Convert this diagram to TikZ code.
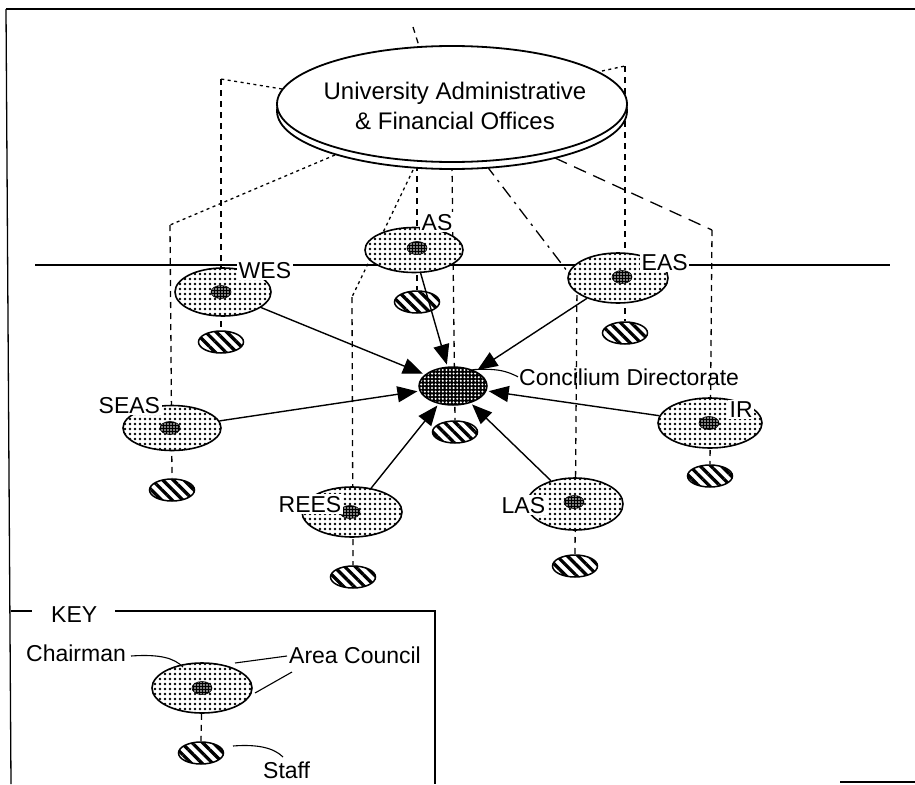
\documentclass[tikz,border=0pt]{standalone}
\usepackage{fontspec}
\setmainfont{Liberation Sans}
\usetikzlibrary{shapes.geometric,patterns.meta,arrows.meta,backgrounds}
\begin{document}
\begin{tikzpicture}[x=1pt,y=-1pt,
  font=\fontsize{23}{27}\selectfont,
  titleell/.style={ellipse, draw, line width=1.8pt, fill=white, inner sep=0pt, minimum width=350pt, minimum height=116pt},
  council/.style={ellipse, draw, line width=1.6pt, inner sep=0pt, preaction={fill=white}, pattern={Dots[distance=5pt,radius=1.45pt]}},
  concil/.style={ellipse, draw, line width=1.5pt, inner sep=0pt, minimum width=68pt, minimum height=38pt, preaction={fill=black}, pattern={Dots[distance=3.6pt,radius=1.15pt]}, pattern color=white},
  chair/.style={ellipse, draw, line width=0.6pt, inner sep=0pt, minimum width=20pt, minimum height=13pt, preaction={fill=black}, pattern={Dots[distance=3pt,radius=0.9pt]}, pattern color=white},
  staff/.style={ellipse, draw, line width=1.5pt, inner sep=0pt, minimum width=45pt, minimum height=22pt, preaction={fill=white}, pattern={Lines[angle=-45,distance=7.5pt,line width=3.3pt]}},
  lbl/.style={fill=white, inner sep=1.5pt, anchor=base west},
  txt/.style={inner sep=1pt, anchor=base west},
  arr/.style={line width=1.4pt, -{Triangle[length=20pt,width=16pt]}, shorten >=2pt},
  dotl/.style={line width=1.3pt, dash pattern=on 3pt off 3.5pt},
  dashl/.style={line width=1.3pt, dash pattern=on 6pt off 5pt},
  longdash/.style={line width=1.3pt, dash pattern=on 13pt off 8pt},
  dashdot/.style={line width=1.3pt, dash pattern=on 13pt off 6pt on 2.5pt off 6pt},
  leader/.style={line width=1.1pt}
]
\useasboundingbox (0,0) rectangle (915,784);
% outer frame
\draw[line width=1.5pt] (6,9) -- (915,9);
\draw[line width=1.3pt] (6,9) -- (11,784);
\draw[line width=1.3pt] (840,782) -- (915,782);

% title ellipse
\node[titleell] (uafrim) at (452,111) {};
\node[titleell] (uaf) at (452,104) {};
\node[align=center, font=\fontsize{24}{30}\selectfont, inner sep=0pt] (uaft) at (455,106) {University Administrative\\\& Financial Offices};

% councils
\node[council, minimum width=96pt, minimum height=48pt] (wes) at (223,292) {};
\node[council, minimum width=98pt, minimum height=45pt] (as) at (414,250) {};
\node[council, minimum width=100pt, minimum height=50pt] (eas) at (618,278) {};
\node[council, minimum width=98pt, minimum height=45pt] (seas) at (172,428) {};
\node[council, minimum width=104pt, minimum height=50pt] (ir) at (710,423) {};
\node[council, minimum width=100pt, minimum height=50pt] (rees) at (352,512) {};
\node[council, minimum width=96pt, minimum height=52pt] (las) at (575,504) {};
\node[concil] (conc) at (453,386) {};
\node[council, minimum width=100pt, minimum height=50pt] (key) at (202,688) {};

% chairmen
\node[chair] (wesch) at (221,292) {};
\node[chair] (asch) at (417,248) {};
\node[chair] (easch) at (622,277) {};
\node[chair] (seasch) at (170,428) {};
\node[chair] (irch) at (709,423) {};
\node[chair] (reesch) at (350,512) {};
\node[chair] (lasch) at (574,502) {};
\node[chair] (keych) at (202,688) {};

% staff
\node[staff] (wess) at (221,342) {};
\node[staff] (ass) at (417,302) {};
\node[staff] (eass) at (625,333) {};
\node[staff] (concs) at (455,432) {};
\node[staff] (seass) at (172,490) {};
\node[staff] (irs) at (710,476) {};
\node[staff] (reess) at (353,577) {};
\node[staff] (lass) at (575,566) {};
\node[staff] (keys) at (201,753) {};

% labels
\node[lbl] (wesl) at (237,278) {WES};
\node[lbl] (asl) at (420,230) {AS};
\node[lbl] (easl) at (640,270) {EAS};
\node[lbl] (seasl) at (97,413) {SEAS};
\node[lbl] (irl) at (728,417) {IR};
\node[lbl] (reesl) at (277,512) {REES};
\node[lbl] (lasl) at (500,513) {LAS};
\node[txt] (concl) at (518,385) {Concilium Directorate};
\node[txt] (keyl) at (50,622) {KEY};
\node[txt] (chl) at (25,661) {Chairman};
\node[txt] (acl) at (288,663) {Area Council};
\node[txt] (stl) at (262,778) {Staff};

% arrows to the Concilium Directorate
\draw[arr] (wes) -- (conc);
\draw[arr] (as) -- (conc);
\draw[arr] (eas) -- (conc);
\draw[arr] (seas) -- (conc);
\draw[arr] (ir) -- (conc);
\draw[arr] (rees) -- (conc);
\draw[arr] (las) -- (conc);

% leaders
\draw[leader] (conc.40) .. controls (500,368) and (508,372) .. (concl.west);
\coordinate (chA) at (131,656);
\coordinate (chB) at (183,667);
\draw[leader] (chA) .. controls (160,654) and (174,658) .. (chB);
\coordinate (acA) at (287,656);
\coordinate (acB) at (235,663);
\draw[leader] (acA) -- (acB);
\coordinate (acC) at (292,672);
\coordinate (acD) at (255,693);
\draw[leader] (acC) -- (acD);
\coordinate (stA) at (233,746);
\coordinate (stB) at (283,757);
\draw[leader] (stA) .. controls (258,744) and (274,748) .. (stB);

% key box
\coordinate (kb0) at (11,611);
\coordinate (kb1) at (32,611);
\coordinate (kb2) at (115,611);
\coordinate (kb3) at (435,611);
\coordinate (kb4) at (435,784);
\draw[line width=1.3pt] (kb0) -- (kb1);
\draw[line width=1.3pt] (kb2) -- (kb3) -- (kb4);

% connectors behind
\begin{scope}[on background layer]
\coordinate (hl) at (35,265);
\coordinate (hr) at (890,265);
\draw[line width=1.4pt] (hl) -- (hr);
% WES
\coordinate (wesA) at (282,89);
\coordinate (wesB) at (221,79);
\draw[dotl] (wesA) -- (wesB);
\draw[dashl] (wesB) -- (wess.north);
% SEAS
\coordinate (seasA) at (335,155);
\coordinate (seasB) at (170,225);
\draw[dotl] (seasA) -- (seasB);
\draw[dashl] (seasB) -- (seass.north);
% REES
\coordinate (reesA) at (413,170);
\coordinate (reesB) at (352,297);
\draw[dotl] (reesA) -- (reesB);
\draw[dashl] (reesB) -- (reess.north);
% AS
\coordinate (asA) at (417,165);
\draw[dashl] (asA) -- (ass.north);
\coordinate (tkA) at (413,27);
\coordinate (tkB) at (419,46);
\draw[dashl] (tkA) -- (tkB);
% Concilium
\coordinate (concA) at (452,165);
\draw[dashl] (concA) -- (concs.north);
% LAS
\coordinate (lasA) at (486,165);
\coordinate (lasB) at (577,284);
\draw[dashdot] (lasA) -- (lasB);
\draw[dashl] (lasB) -- (lass.north);
% EAS
\coordinate (easA) at (602,71);
\coordinate (easB) at (625,66);
\draw[dotl] (easA) -- (easB);
\draw[dashl] (easB) -- (eass.north);
% IR
\coordinate (irA) at (555,158);
\coordinate (irB) at (712,230);
\draw[longdash] (irA) -- (irB);
\draw[dashl] (irB) -- (irs.north);
% key
\draw[dashl] (key) -- (keys.north);
\end{scope}
\end{tikzpicture}
\end{document}
